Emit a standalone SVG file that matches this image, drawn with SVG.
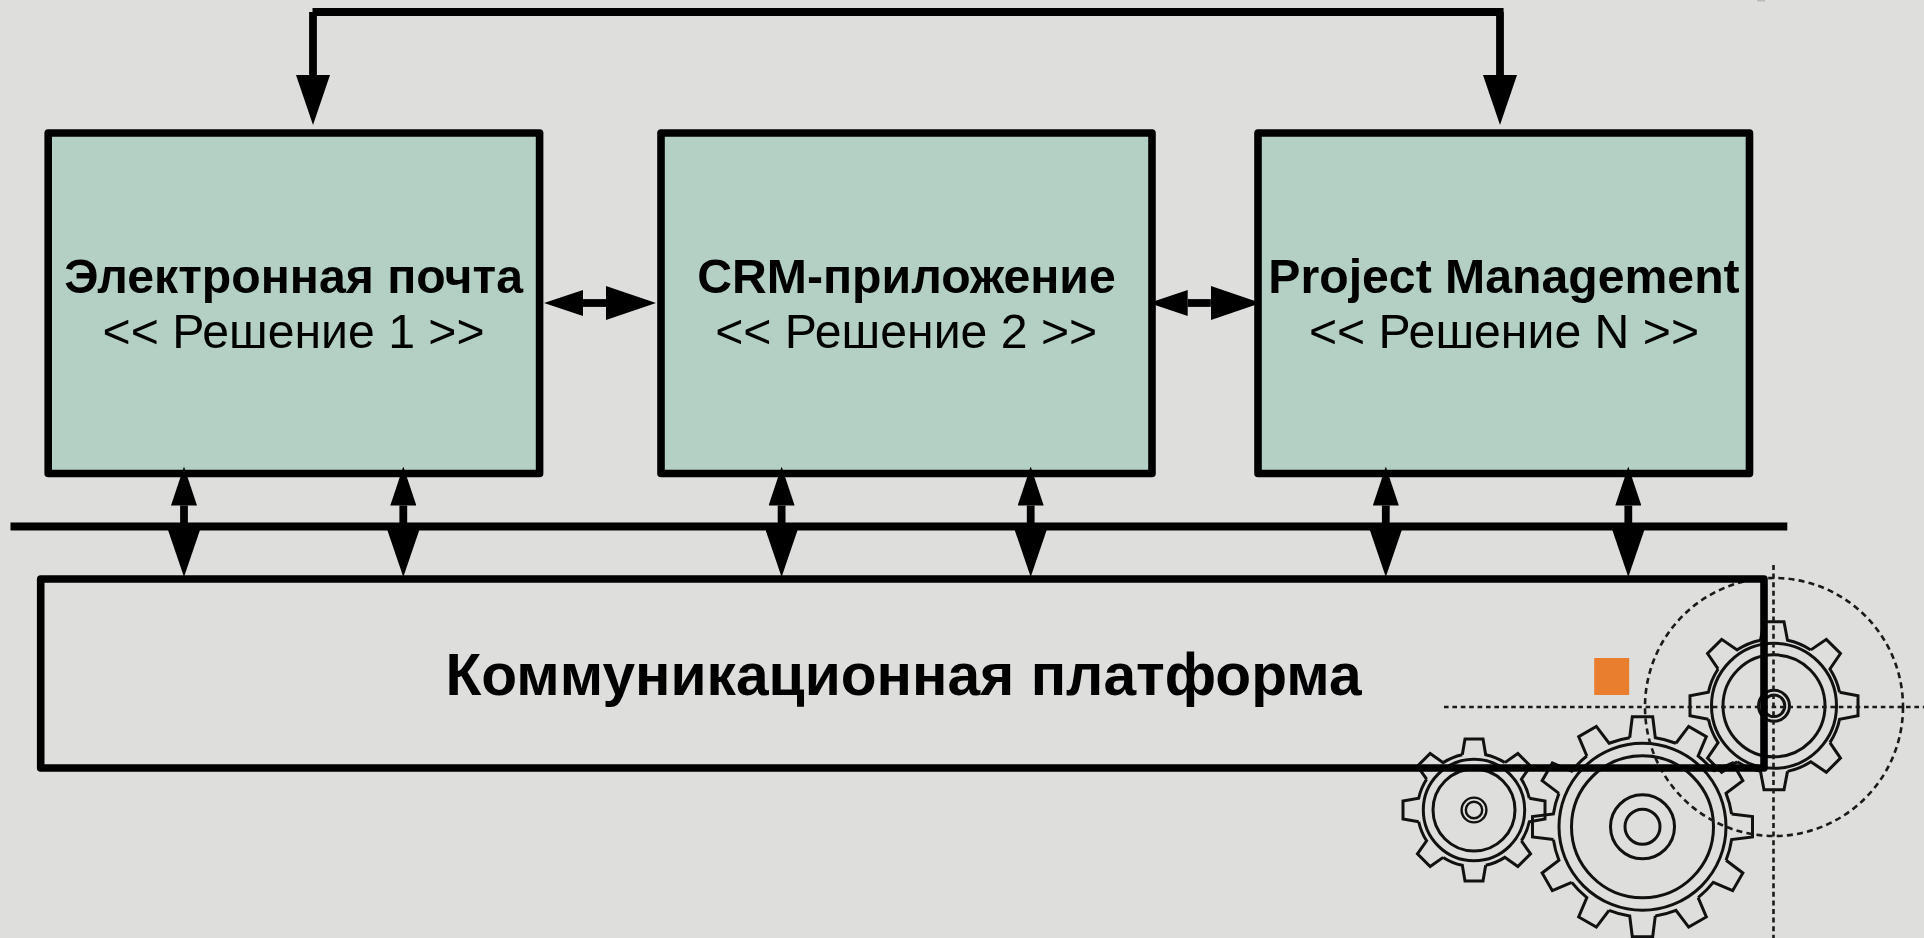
<svg xmlns="http://www.w3.org/2000/svg" width="1924" height="938" viewBox="0 0 1924 938">
<defs>
<style>
.box{fill:#b4d0c4;stroke:#000;stroke-width:7.6;stroke-linejoin:round}
.platform{fill:none;stroke:#000;stroke-width:7.6;stroke-linejoin:round}
.title{font-family:"Liberation Sans",Arial,sans-serif;font-weight:700;font-size:48.2px;text-anchor:middle;fill:#000}
.sub{font-family:"Liberation Sans",Arial,sans-serif;font-weight:400;font-size:48.2px;text-anchor:middle;fill:#000}
.ptitle{font-family:"Liberation Sans",Arial,sans-serif;font-weight:700;font-size:58.7px;text-anchor:middle;fill:#000}
.conn{fill:none;stroke:#000;stroke-width:7.8}
.vert{marker-start:url(#headS);marker-end:url(#headD)}
.horz{marker-start:url(#headS);marker-end:url(#headL)}
.gear{fill:none;stroke:#111;stroke-width:3}
.dash{fill:none;stroke:#1a1a1a;stroke-width:2.6}
</style>
<marker id="headL" markerUnits="userSpaceOnUse" markerWidth="50" markerHeight="34" refX="0" refY="17" orient="auto-start-reverse"><polygon points="0,0 50,17 0,34"/></marker>
<marker id="headS" markerUnits="userSpaceOnUse" markerWidth="39" markerHeight="26" refX="0" refY="13" orient="auto-start-reverse"><polygon points="0,0 39,13 0,26"/></marker>
<marker id="headD" markerUnits="userSpaceOnUse" markerWidth="47" markerHeight="32" refX="0" refY="16" orient="auto-start-reverse"><polygon points="0,0 47,16 0,32"/></marker>
<path id="seg8a" d="M-13.5,-65.6L-10,-84L10,-84L13.5,-65.6A67,67 0 0 1 36.8,-55.9"/>
<path id="seg8b" d="M-11.7,-55.3L-9,-71L9,-71L11.7,-55.3A56.5,56.5 0 0 1 30.8,-47.4"/>
<path id="seg12" d="M-12.8,-89.1L-10.2,-110L10.2,-110L12.8,-89.1A90,90 0 0 1 33.47,-83.56"/>
</defs>
<rect id="background" width="1924" height="938" fill="#dededc"/>
<rect id="edge-mark" x="1757" y="0" width="8" height="1.5" fill="#bbbbb9"/>
<g id="gear-left" class="gear" transform="translate(1474,810)">
<use href="#seg8b"/><use href="#seg8b" transform="rotate(45)"/><use href="#seg8b" transform="rotate(90)"/><use href="#seg8b" transform="rotate(135)"/><use href="#seg8b" transform="rotate(180)"/><use href="#seg8b" transform="rotate(225)"/><use href="#seg8b" transform="rotate(270)"/><use href="#seg8b" transform="rotate(315)"/>
<circle r="50.7"/><circle r="41"/><circle r="12.4" stroke-width="2.4"/><circle r="8.2" stroke-width="2.4"/>
</g>
<g id="gear-large" class="gear" transform="translate(1642.5,826.8)">
<use href="#seg12"/><use href="#seg12" transform="rotate(30)"/><use href="#seg12" transform="rotate(60)"/><use href="#seg12" transform="rotate(90)"/><use href="#seg12" transform="rotate(120)"/><use href="#seg12" transform="rotate(150)"/><use href="#seg12" transform="rotate(180)"/><use href="#seg12" transform="rotate(210)"/><use href="#seg12" transform="rotate(240)"/><use href="#seg12" transform="rotate(270)"/><use href="#seg12" transform="rotate(300)"/><use href="#seg12" transform="rotate(330)"/>
<circle r="83.5"/><circle r="71"/><circle r="32"/><circle r="17.5"/>
</g>
<g id="gear-right" class="gear" transform="translate(1774,705.8)">
<use href="#seg8a"/><use href="#seg8a" transform="rotate(45)"/><use href="#seg8a" transform="rotate(90)"/><use href="#seg8a" transform="rotate(135)"/><use href="#seg8a" transform="rotate(180)"/><use href="#seg8a" transform="rotate(225)"/><use href="#seg8a" transform="rotate(270)"/><use href="#seg8a" transform="rotate(315)"/>
<circle r="62.5"/><circle r="51"/><circle r="15.5"/><circle r="10.8"/>
</g>
<g id="guides">
<circle class="dash" cx="1774" cy="707" r="129" stroke-dasharray="6 4.2"/>
<path class="dash" d="M1444,707H1924" stroke-dasharray="4.6 3.8"/>
<path class="dash" d="M1773.5,565V938" stroke-dasharray="5 3.6"/>
</g>
<g id="node-email"><rect class="box" x="48.2" y="133" width="491.4" height="340.5"/>
<text class="title" x="293.6" y="292.8">Электронная почта</text><text class="sub" x="293.6" y="347.5">&lt;&lt; Решение 1 &gt;&gt;</text></g>
<g id="node-crm"><rect class="box" x="661" y="133" width="491" height="340.5"/>
<text class="title" x="906.5" y="292.8">CRM-приложение</text><text class="sub" x="906.2" y="347.5">&lt;&lt; Решение 2 &gt;&gt;</text></g>
<g id="node-pm"><rect class="box" x="1258" y="133" width="491.5" height="340.5"/>
<text class="title" x="1504" y="292.8">Project Management</text><text class="sub" x="1504" y="347.5">&lt;&lt; Решение N &gt;&gt;</text></g>
<g id="node-platform"><rect class="platform" x="40.7" y="579" width="1723.3" height="189"/>
<text class="ptitle" x="903.5" y="695">Коммуникационная платформа</text></g>
<rect id="orange-mark" x="1594.2" y="658" width="35" height="37" fill="#e87e2e"/>
<g id="connectors">
<path class="conn" d="M10.5,526.5H1787.3"/>
<path class="conn" d="M313,75V12M312.5,12H1503.6M1500,12V75" style="marker-start:url(#headL);marker-end:url(#headL)"/>
<path class="conn horz" d="M583,303H606"/>
<path class="conn horz" d="M1187.7,303H1210.8"/>
<path class="conn vert" d="M184,505.5V530"/>
<path class="conn vert" d="M403.3,505.5V530"/>
<path class="conn vert" d="M781.6,505.5V530"/>
<path class="conn vert" d="M1030.7,505.5V530"/>
<path class="conn vert" d="M1385.8,505.5V530"/>
<path class="conn vert" d="M1628.3,505.5V530"/>
</g>
</svg>
